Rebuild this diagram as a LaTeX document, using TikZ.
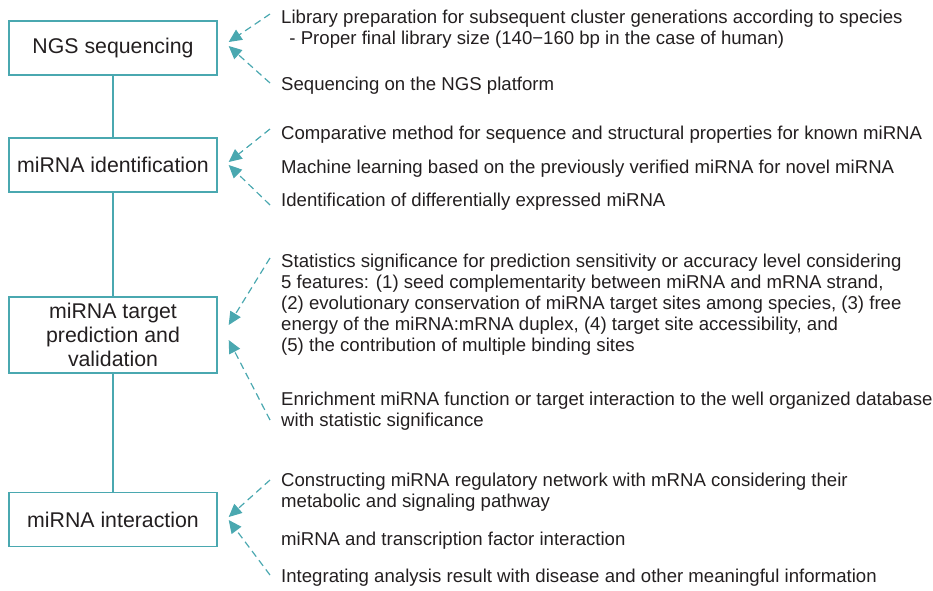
\documentclass[tikz,border=0pt]{standalone}
\usepackage{fontspec}
\setmainfont{Liberation Sans}
\usetikzlibrary{arrows.meta,calc}
\definecolor{teal1}{RGB}{74,168,176}
\definecolor{txt}{RGB}{35,31,32}
\tikzset{
  stagebox/.style={draw=teal1,line width=1.4pt,minimum width=208pt,minimum height=54pt,inner sep=0pt,align=center,text=txt,font=\fontsize{21.3}{24}\selectfont},
  note/.style={anchor=west,align=left,inner sep=0pt,text=txt,font=\fontsize{18.6}{21}\selectfont},
  dashline/.style={draw=teal1,line width=1.2pt,dash pattern=on 7pt off 4.5pt,-{Triangle[length=13pt,width=12pt]}},
  link/.style={draw=teal1,line width=1.4pt}
}
\begin{document}
\begin{tikzpicture}[x=1pt,y=-1pt]
\useasboundingbox (0,0) rectangle (933,590);
% stage boxes
\node[stagebox] (b1) at (113,48) {NGS sequencing};
\node[stagebox] (b2) at (113,165) {miRNA identification};
\node[stagebox,minimum height=76pt] (b3) at (113,335) {miRNA target\\prediction and\\validation};
\node[stagebox] (b4) at (113,519.5) {miRNA interaction};
\draw[link] (b1.south) -- (b2.north);
\draw[link] (b2.south) -- (b3.north);
\draw[link] (b3.south) -- (b4.north);
% notes
\node[note] (n1a) at (281,29.5) {Library preparation for subsequent cluster generations according to species\\\ \,- Proper final library size (140\textminus160 bp in the case of human)};
\node[note] (n1b) at (281,86) {Sequencing on the NGS platform};
\node[note] (n2a) at (281,135) {Comparative method for sequence and structural properties for known miRNA};
\node[note] (n2b) at (281,169) {Machine learning based on the previously verified miRNA for novel miRNA};
\node[note] (n2c) at (281,202) {Identification of differentially expressed miRNA};
\node[note] (n3a) at (281,305) {Statistics significance for prediction sensitivity or accuracy level considering\\5 features: (1) seed complementarity between miRNA and mRNA strand,\\(2) evolutionary conservation of miRNA target sites among species, (3) free\\energy of the miRNA:mRNA duplex, (4) target site accessibility, and\\(5) the contribution of multiple binding sites};
\node[note] (n3b) at (281,411) {Enrichment miRNA function or target interaction to the well organized database\\with statistic significance};
\node[note] (n4a) at (281,492) {Constructing miRNA regulatory network with mRNA considering their\\metabolic and signaling pathway};
\node[note] (n4b) at (281,541) {miRNA and transcription factor interaction};
\node[note] (n4c) at (281,578) {Integrating analysis result with disease and other meaningful information};
% connector start points
\coordinate (s1a) at (270,14);
\coordinate (s1b) at (270,83);
\coordinate (s2a) at (270,129);
\coordinate (s2b) at (270,205);
\coordinate (s3a) at (270,258);
\coordinate (s3b) at (270,420);
\coordinate (s4a) at (270,480);
\coordinate (s4b) at (270,575);
% connectors
\draw[dashline] (s1a) -- ([shift={(11,-6)}]b1.east);
\draw[dashline] (s1b) -- ([shift={(11,-2)}]b1.east);
\draw[dashline] (s2a) -- ([shift={(11,-3)}]b2.east);
\draw[dashline] (s2b) -- ([shift={(11,0)}]b2.east);
\draw[dashline] (s3a) -- ([shift={(11,-10)}]b3.east);
\draw[dashline] (s3b) -- ([shift={(11,5)}]b3.east);
\draw[dashline] (s4a) -- ([shift={(11,-2.5)}]b4.east);
\draw[dashline] (s4b) -- ([shift={(11,0.5)}]b4.east);
\end{tikzpicture}
\end{document}
